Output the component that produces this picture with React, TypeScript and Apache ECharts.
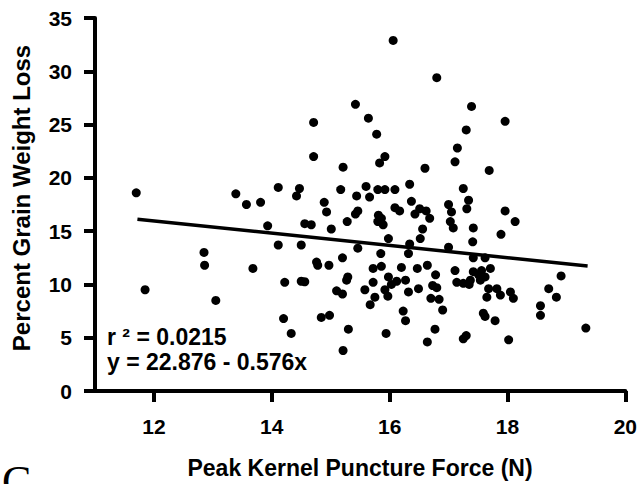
import React, { useEffect, useRef } from "react";
import * as echarts from "echarts";

// Peak kernel puncture force (N)
const punctureForce: number[] = [
  11.70, 11.85, 12.85, 12.86, 13.05, 13.39, 13.57, 13.68, 13.81, 13.93,
  14.11, 14.11, 14.20, 14.22, 14.33, 14.42, 14.47, 14.50, 14.50, 14.56,
  14.56, 14.67, 14.71, 14.71, 14.76, 14.78, 14.89, 14.93, 14.84, 14.98,
  14.97, 15.01, 15.10, 15.17, 15.20, 15.20, 15.21, 15.21, 15.27, 15.29,
  15.28, 15.30, 15.42, 15.42, 15.44, 15.46, 15.46, 15.58, 15.60, 15.64,
  15.66, 15.67, 15.72, 15.72, 15.75, 15.78, 15.80, 15.80, 15.83, 15.85,
  15.86, 15.81, 15.86, 15.89, 15.92, 15.92, 15.94, 15.92, 15.97, 15.98,
  15.98, 16.03, 16.06, 16.09, 16.09, 16.12, 16.17, 16.20, 16.23, 16.27,
  16.27, 16.32, 16.32, 16.34, 16.34, 16.37, 16.43, 16.47, 16.49, 16.51,
  16.52, 16.56, 16.60, 16.62, 16.64, 16.64, 16.68, 16.70, 16.73, 16.77,
  16.78, 16.80, 16.80, 16.84, 16.90, 17.00, 17.00, 17.03, 17.05, 17.08,
  17.11, 17.11, 17.15, 17.14, 17.25, 17.25, 17.30, 17.30, 17.31, 17.34,
  17.25, 17.35, 17.39, 17.41, 17.42, 17.42, 17.37, 17.42, 17.51, 17.56,
  17.54, 17.62, 17.71, 17.59, 17.62, 17.62, 17.65, 17.68, 17.69, 17.79,
  17.82, 17.88, 17.89, 17.96, 17.96, 18.02, 18.05, 18.10, 18.13, 18.56,
  18.56, 18.70, 18.83, 18.91, 19.33,
];

// Percent grain weight loss
const weightLoss: number[] = [
  18.6, 9.5, 13.0, 11.8, 8.5, 18.5, 17.5, 11.5, 17.7, 15.5,
  19.1, 13.7, 6.8, 10.2, 5.4, 18.3, 19.0, 13.7, 10.3, 10.25,
  15.7, 15.6, 25.2, 22.0, 12.1, 11.8, 17.7, 16.8, 6.9, 7.1,
  11.8, 15.2, 9.4, 18.9, 12.5, 9.1, 21.0, 3.8, 10.4, 10.7,
  15.9, 5.8, 16.6, 26.9, 18.3, 13.4, 16.9, 9.5, 19.2, 25.6,
  18.2, 8.1, 11.5, 10.2, 8.8, 24.1, 15.9, 18.9, 21.4, 12.9,
  11.7, 16.5, 16.2, 15.6, 22.0, 18.9, 5.4, 9.5, 8.9, 14.3,
  10.7, 10.0, 32.9, 18.9, 17.2, 10.3, 16.9, 11.6, 7.5, 6.6,
  10.4, 9.3, 12.9, 19.4, 13.8, 17.8, 16.6, 11.5, 9.6, 17.1,
  14.3, 15.2, 20.9, 16.9, 4.6, 11.8, 16.2, 8.7, 9.9, 5.8,
  10.9, 29.4, 9.7, 8.6, 7.6, 13.5, 17.5, 15.9, 16.8, 15.3,
  11.3, 21.5, 22.8, 10.2, 19.0, 4.9, 5.2, 24.5, 17.1, 17.9,
  10.1, 10.0, 26.7, 14.0, 12.5, 15.3, 10.4, 11.2, 10.9, 11.3,
  10.4, 10.7, 11.5, 7.3, 7.0, 12.5, 8.8, 9.6, 20.7, 6.6,
  9.6, 9.0, 14.7, 16.9, 25.3, 4.8, 9.3, 8.7, 15.9, 8.0,
  7.1, 9.6, 8.8, 10.8, 5.9,
];

// Regression: y = 22.876 - 0.576x, drawn over the observed force range
const fitIntercept = 22.876;
const fitSlope = -0.576;
const fitRange: number[] = [11.72, 19.36];

const xTickValues: number[] = [12, 14, 16, 18, 20];
const yTickValues: number[] = [0, 5, 10, 15, 20, 25, 30, 35];

const xTitle = "Peak Kernel Puncture Force (N)";
const yTitle = "Percent Grain Weight Loss";
const statLines: string[] = ["r \u00B2 = 0.0215", "y = 22.876 - 0.576x"];
const panelLetter = "C";

const FONT = "'Liberation Sans', Arial, Helvetica, sans-serif";

export default function App() {
  const ref = useRef<HTMLDivElement | null>(null);

  useEffect(() => {
    if (!ref.current) return;
    const chart = echarts.init(ref.current, undefined, { renderer: "svg" });

    const points = punctureForce.map((x, i) => [x, weightLoss[i]]);
    const fitLine = fitRange.map((x) => [x, fitIntercept + fitSlope * x]);

    chart.setOption({
      animation: false,
      backgroundColor: "#ffffff",
      grid: { left: 95, right: 13, top: 18, bottom: 93, containLabel: false },
      xAxis: {
        type: "value",
        min: 11,
        max: 20,
        splitLine: { show: false },
        axisLine: { show: true, onZero: false, lineStyle: { color: "#000", width: 4 } },
        axisTick: {
          show: true,
          inside: false,
          length: 11,
          customValues: xTickValues,
          lineStyle: { color: "#000", width: 4 },
        },
        axisLabel: {
          customValues: xTickValues,
          margin: 25,
          color: "#000",
          fontFamily: FONT,
          fontWeight: "bold",
          fontSize: 21,
        },
      },
      yAxis: {
        type: "value",
        min: 0,
        max: 35,
        interval: 5,
        splitLine: { show: false },
        axisLine: { show: true, lineStyle: { color: "#000", width: 4 } },
        axisTick: {
          show: true,
          inside: false,
          length: 11,
          lineStyle: { color: "#000", width: 4 },
        },
        axisLabel: {
          margin: 23,
          color: "#000",
          fontFamily: FONT,
          fontWeight: "bold",
          fontSize: 21,
          formatter: (v: number) => (yTickValues.includes(v) ? String(v) : ""),
        },
      },
      series: [
        {
          type: "scatter",
          data: points,
          symbol: "circle",
          symbolSize: 9,
          itemStyle: { color: "#000", opacity: 1 },
          z: 3,
        },
        {
          type: "line",
          data: fitLine,
          symbol: "none",
          lineStyle: { color: "#000", width: 3.5 },
          z: 2,
        },
      ],
      graphic: [
        {
          type: "text",
          x: 21,
          y: 198,
          rotation: Math.PI / 2,
          style: {
            text: yTitle,
            fill: "#000",
            font: `bold 24px ${FONT}`,
            textAlign: "center",
            textVerticalAlign: "middle",
          },
        },
        {
          type: "text",
          x: 360,
          y: 468,
          style: {
            text: xTitle,
            fill: "#000",
            font: `bold 23px ${FONT}`,
            textAlign: "center",
            textVerticalAlign: "middle",
          },
        },
        {
          type: "text",
          x: 107,
          y: 337,
          style: {
            text: statLines[0],
            fill: "#000",
            font: `bold 23px ${FONT}`,
            textAlign: "left",
            textVerticalAlign: "middle",
          },
        },
        {
          type: "text",
          x: 107,
          y: 362,
          style: {
            text: statLines[1],
            fill: "#000",
            font: `bold 23px ${FONT}`,
            textAlign: "left",
            textVerticalAlign: "middle",
          },
        },
        {
          type: "text",
          x: 2,
          y: 459,
          style: {
            text: panelLetter,
            fill: "#000",
            font: "normal 44px 'Liberation Serif', 'Times New Roman', serif",
            textAlign: "left",
            textVerticalAlign: "top",
          },
        },
      ],
    });

    return () => {
      chart.dispose();
    };
  }, []);

  return (
    <div
      ref={ref}
      style={{ position: "fixed", left: 0, top: 0, width: 640, height: 484, background: "#fff" }}
    />
  );
}
